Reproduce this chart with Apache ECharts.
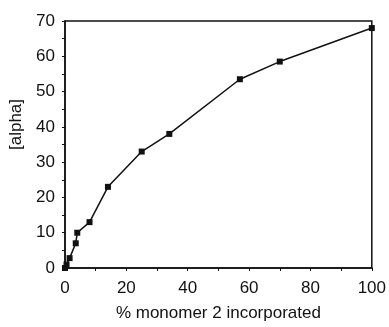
<!DOCTYPE html>
<html>
<head>
<meta charset="utf-8">
<script src="https://cdn.jsdelivr.net/npm/echarts@6/dist/echarts.min.js"></script>
<style>
  html, body { margin: 0; padding: 0; background: #fff; }
  #chart-container { width: 389px; height: 327px; }
</style>
</head>
<body>
<div id="chart-container"></div>
<script>
var pctIncorporated = [0, 0.5, 1.5, 3.5, 4, 8, 14, 25, 34, 57, 70, 100];
var alphaValues = [0, 1, 2.8, 7, 10, 13, 23, 33, 38, 53.5, 58.5, 68];

var dom = document.getElementById('chart-container');
var myChart = echarts.init(dom, null, { renderer: 'canvas' });

var font = 'Liberation Sans, Arial, sans-serif';
var axisCommon = {
  axisLine: { show: true, lineStyle: { color: '#111', width: 1.5 } },
  axisTick: { show: true, inside: false, length: 3, lineStyle: { color: '#111', width: 1 } },
  minorTick: { show: true, splitNumber: 2, length: 3, lineStyle: { color: '#111', width: 1 } },
  splitLine: { show: false },
  axisLabel: { color: '#111', fontSize: 17, fontFamily: font }
};

var option = {
  backgroundColor: '#fff',
  animation: false,
  grid: { left: 65, right: 12, top: 21, bottom: 57, show: true, borderColor: '#111', borderWidth: 1.5 },
  xAxis: Object.assign({}, axisCommon, {
    type: 'value', min: 0, max: 100, interval: 20,
    name: '% monomer 2 incorporated', nameLocation: 'middle', nameGap: 37,
    nameTextStyle: { color: '#111', fontSize: 17, fontFamily: font },
    axisLabel: Object.assign({}, axisCommon.axisLabel, { margin: 12 })
  }),
  yAxis: Object.assign({}, axisCommon, {
    type: 'value', min: 0, max: 70, interval: 10,
    name: '[alpha]', nameLocation: 'middle', nameGap: 30,
    nameTextStyle: { color: '#111', fontSize: 17, fontFamily: font, padding: [0, 0, 0, 40] },
    axisLabel: Object.assign({}, axisCommon.axisLabel, { margin: 10 })
  }),
  series: [{
    type: 'line',
    data: pctIncorporated.map(function (x, i) { return [x, alphaValues[i]]; }),
    symbol: 'rect',
    symbolSize: 6,
    lineStyle: { color: '#111', width: 1.5 },
    itemStyle: { color: '#111' }
  }]
};
myChart.setOption(option);
window.addEventListener('resize', myChart.resize);
</script>
</body>
</html>
